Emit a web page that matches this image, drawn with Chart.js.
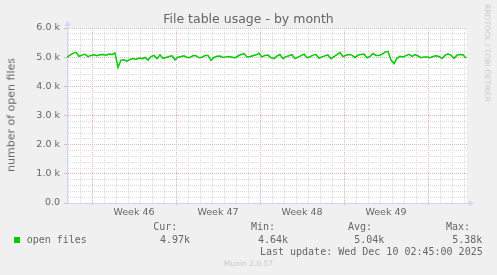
<!DOCTYPE html>
<html>
<head>
<meta charset="utf-8">
<title>File table usage - by month</title>
<script src="https://cdn.jsdelivr.net/npm/chart.js@4/dist/chart.umd.min.js"></script>
<style>
html, body { margin: 0; padding: 0; background: #f0f0f0; }
#wrap { position: relative; width: 497px; height: 275px; overflow: hidden; font-family: "DejaVu Sans", sans-serif; color: #666666; }
#chart { position: absolute; left: 0; top: 0; }
.t { position: absolute; white-space: nowrap; line-height: 1; }
.mono { font-family: "DejaVu Sans Mono", monospace; font-size: 10px; }
</style>
</head>
<body>
<div id="wrap">
    <canvas id="chart" width="497" height="275"></canvas>
    <div class="t" style="left:0;width:497px;text-align:center;top:13.4px;font-size:12.5px;">File table usage - by month</div>
    <div class="t" style="left:10.6px;top:114.5px;font-size:11px;transform:translate(-50%,-50%) rotate(-90deg);">number of open files</div>
    <div class="t" style="left:486.9px;top:53.4px;font-size:7.6px;color:#c8c8c8;transform:translate(-50%,-50%) rotate(90deg);">RRDTOOL / TOBI OETIKER</div>

    <div class="t mono" style="right:319.7px;top:222.2px;">Cur:</div>
    <div class="t mono" style="right:222px;top:222.2px;">Min:</div>
    <div class="t mono" style="right:125px;top:222.2px;">Avg:</div>
    <div class="t mono" style="right:27px;top:222.2px;">Max:</div>

    <div style="position:absolute;left:14px;top:237px;width:6px;height:6px;background:#00cc00;"></div>
    <div class="t mono" style="left:26.7px;top:234.8px;">open files</div>
    <div class="t mono" style="right:307px;top:234.8px;">4.97k</div>
    <div class="t mono" style="right:209px;top:234.8px;">4.64k</div>
    <div class="t mono" style="right:112.7px;top:234.8px;">5.04k</div>
    <div class="t mono" style="right:14.7px;top:234.8px;">5.38k</div>

    <div class="t mono" style="right:14.3px;top:246.5px;">Last update: Wed Dec 10 02:45:00 2025</div>
    <div class="t" style="left:0;width:497px;text-align:center;top:260.3px;font-size:7.5px;color:#c8c8c8;">Munin 2.0.57</div>
</div>

<script>
// open files, one value every 6 hours over the month window
const stepHours = 6;
const hoursShown = 800;
const openFiles = [
    5000, 5070, 5130, 5165, 5030, 5070, 5100, 5020, 5060, 5080,
    5050, 5080, 5090, 5070, 5110, 5090, 5140, 4650, 4900, 4910,
    4860, 4920, 4950, 4920, 4970, 4950, 4990, 4900, 5020, 5060,
    4950, 5080, 4960, 4990, 5020, 5045, 4910, 5000, 5020, 5045,
    4990, 4990, 5050, 5050, 4980, 5000, 5055, 5060, 4890, 4990,
    5030, 5040, 4990, 5010, 5020, 5000, 4980, 5040, 5090, 5125,
    5010, 5020, 5050, 5080, 5135, 5010, 5060, 5070, 4980, 4950,
    5040, 5090, 4950, 5020, 5050, 5085, 4950, 5000, 5055, 5100,
    4980, 5015, 5070, 5090, 4960, 5010, 5045, 5075, 4950, 5020,
    5085, 5160, 5020, 5065, 5090, 5070, 4990, 5065, 5095, 5110,
    4980, 5025, 5130, 5060, 5060, 5100, 5170, 5200, 4900, 4780,
    4970, 5030, 5010, 5055, 5100, 5030, 5090, 5040, 4980, 5010,
    5010, 4980, 5020, 5045, 5025, 4950, 5060, 5115, 5070, 4960,
    5070, 5090, 5085, 4970
];

// week boundaries (hours from left edge) and their labels
const weekStartHours = [50, 218, 386, 554, 722];
const weekLabels = ['Week 46', 'Week 47', 'Week 48', 'Week 49'];

// y axis
const yMax = 6000;
const yMinorStep = 200;
const yMajorStep = 1000;

const axisColor = '#cfd6f8';
const majorGrid = '#eab4b4';
const minorGrid = '#dcdcdc';

// midpoints between week lines carry the labels
const weekMidHours = weekLabels.map((l, i) => (weekStartHours[i] + weekStartHours[i + 1]) / 2);

function isWeekStart(v) { return weekStartHours.indexOf(v) >= 0; }
function isWeekMid(v) { return weekMidHours.indexOf(v) >= 0; }

// white plot background and axis arrows
const munDecor = {
    id: 'munDecor',
    beforeDraw(chart) {
        const { ctx, chartArea: a } = chart;
        ctx.save();
        ctx.fillStyle = '#ffffff';
        ctx.fillRect(a.left, a.top, a.right - a.left, a.bottom - a.top);
        ctx.restore();
    },
    afterDraw(chart) {
        const { ctx, chartArea: a } = chart;
        const x0 = Math.round(a.left) + 0.5;
        const y0 = Math.round(a.bottom) + 0.5;
        ctx.save();
        ctx.strokeStyle = axisColor;
        ctx.fillStyle = axisColor;
        ctx.lineWidth = 1;
        ctx.beginPath();
        ctx.moveTo(x0, a.top);
        ctx.lineTo(x0, a.top - 2);
        ctx.moveTo(a.right, y0);
        ctx.lineTo(a.right + 2, y0);
        ctx.stroke();
        ctx.beginPath();
        ctx.moveTo(x0, a.top - 7);
        ctx.lineTo(x0 - 3, a.top - 2);
        ctx.lineTo(x0 + 3, a.top - 2);
        ctx.closePath();
        ctx.fill();
        ctx.beginPath();
        ctx.moveTo(a.right + 7, y0);
        ctx.lineTo(a.right + 2, y0 - 3);
        ctx.lineTo(a.right + 2, y0 + 3);
        ctx.closePath();
        ctx.fill();
        ctx.restore();
    }
};

Chart.defaults.font.family = '"DejaVu Sans", sans-serif';
Chart.defaults.color = '#666666';

const ctx = document.getElementById('chart').getContext('2d');
const chart = new Chart(ctx, {
    type: 'line',
    data: {
        datasets: [{
            label: 'open files',
            data: openFiles.map((v, i) => ({ x: i * stepHours, y: v })),
            borderColor: '#00cc00',
            borderWidth: 1.5,
            pointRadius: 0,
            tension: 0,
            fill: false
        }]
    },
    options: {
        responsive: false,
        animation: false,
        events: [],
        layout: { padding: { top: 28, right: 30, bottom: 52, left: 0 } },
        plugins: {
            legend: { display: false },
            tooltip: { enabled: false },
            title: { display: false }
        },
        scales: {
            x: {
                type: 'linear',
                min: 0,
                max: hoursShown,
                afterBuildTicks: function(scale) {
                    const ticks = [];
                    for (let h = weekStartHours[0] % 24; h < hoursShown; h += 24) {
                        ticks.push({ value: h });
                    }
                    weekMidHours.forEach(h => ticks.push({ value: h }));
                    ticks.sort((a, b) => a.value - b.value);
                    scale.ticks = ticks;
                },
                afterFit: function(scale) { scale.height = 20; },
                ticks: {
                    autoSkip: false,
                    maxRotation: 0,
                    padding: 2,
                    font: { size: 9.5 },
                    color: '#666666',
                    callback: function(value) {
                        const i = weekMidHours.indexOf(value);
                        return i >= 0 ? weekLabels[i] : '';
                    }
                },
                grid: {
                    drawTicks: true,
                    tickLength: 2,
                    lineWidth: 1,
                    color: function(c) {
                        const v = c.tick ? c.tick.value : null;
                        if (v === null || isWeekMid(v)) return 'rgba(0,0,0,0)';
                        return isWeekStart(v) ? majorGrid : minorGrid;
                    },
                    tickColor: function(c) {
                        const v = c.tick ? c.tick.value : null;
                        return (v !== null && isWeekStart(v)) ? majorGrid : 'rgba(0,0,0,0)';
                    }
                },
                border: { display: true, color: axisColor, width: 1, dash: [1, 1] }
            },
            y: {
                min: 0,
                max: yMax,
                afterBuildTicks: function(scale) {
                    const ticks = [];
                    for (let v = 0; v <= yMax; v += yMinorStep) ticks.push({ value: v });
                    scale.ticks = ticks;
                },
                afterFit: function(scale) { scale.width = 67; },
                ticks: {
                    autoSkip: false,
                    padding: 4,
                    font: { size: 9.5 },
                    color: '#666666',
                    callback: function(value) {
                        if (value % yMajorStep !== 0) return '';
                        return value === 0 ? '0.0' : (value / 1000).toFixed(1) + ' k';
                    }
                },
                grid: {
                    drawTicks: true,
                    tickLength: 3,
                    lineWidth: 1,
                    color: function(c) {
                        const v = c.tick ? c.tick.value : null;
                        if (v === null || v === 0) return 'rgba(0,0,0,0)';
                        return v % yMajorStep === 0 ? majorGrid : minorGrid;
                    },
                    tickColor: function(c) {
                        const v = c.tick ? c.tick.value : null;
                        return (v !== null && v % yMajorStep === 0) ? majorGrid : 'rgba(0,0,0,0)';
                    }
                },
                border: { display: true, color: axisColor, width: 1, dash: [1, 1] }
            }
        }
    },
    plugins: [munDecor]
});
</script>
</body>
</html>
